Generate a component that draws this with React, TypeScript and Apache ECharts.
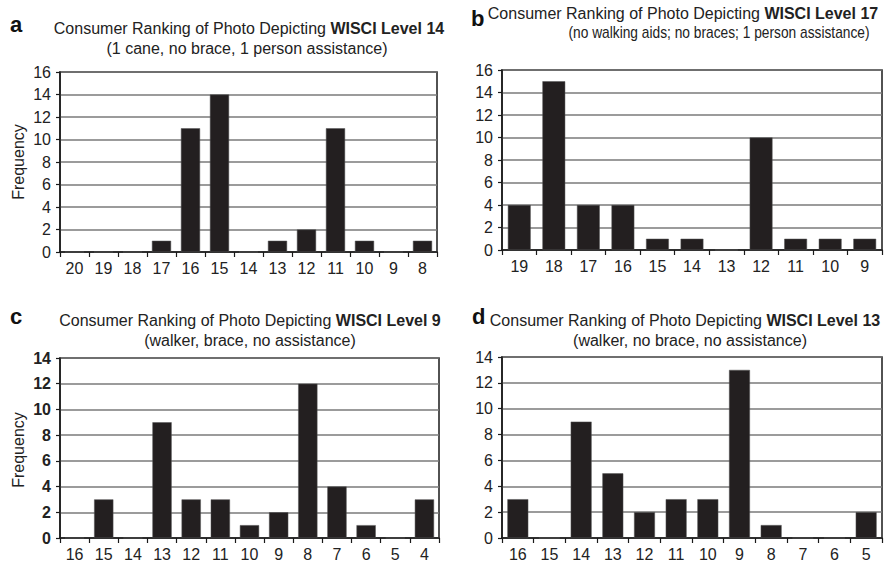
import React, { useEffect, useRef } from "react";
import * as echarts from "echarts";

const catsA = ["20", "19", "18", "17", "16", "15", "14", "13", "12", "11", "10", "9", "8"];
const valsA = [0, 0, 0, 1, 11, 14, 0, 1, 2, 11, 1, 0, 1];
const catsB = ["19", "18", "17", "16", "15", "14", "13", "12", "11", "10", "9"];
const valsB = [4, 15, 4, 4, 1, 1, 0, 10, 1, 1, 1];
const catsC = ["16", "15", "14", "13", "12", "11", "10", "9", "8", "7", "6", "5", "4"];
const valsC = [0, 3, 0, 9, 3, 3, 1, 2, 12, 4, 1, 0, 3];
const catsD = ["16", "15", "14", "13", "12", "11", "10", "9", "8", "7", "6", "5"];
const valsD = [3, 0, 9, 5, 2, 3, 3, 13, 1, 0, 0, 2];

const maxA = 16, maxB = 16, maxC = 14, maxD = 14;

const titleLevels = ["WISCI Level 14", "WISCI Level 17", "WISCI Level 9", "WISCI Level 13"];
const subtitles = [
  "(1 cane, no brace, 1 person assistance)",
  "(no walking aids; no braces; 1 person assistance)",
  "(walker, brace, no assistance)",
  "(walker, no brace, no assistance)",
];
const panelLetters = ["a", "b", "c", "d"];

const FONT = "Liberation Sans, Arial, sans-serif";
const BAR = "#231f20";

export default function App() {
  const ref = useRef<HTMLDivElement>(null);
  useEffect(() => {
    if (!ref.current) return;
    const chart = echarts.init(ref.current, null, { renderer: "svg" });

    const grids = [
      { left: 60, top: 72, width: 377, height: 180 },
      { left: 502, top: 70, width: 380, height: 180 },
      { left: 60, top: 358, width: 379, height: 182 },
      { left: 502, top: 357, width: 380, height: 182 },
    ];
    const cats = [catsA, catsB, catsC, catsD];
    const vals = [valsA, valsB, valsC, valsD];
    const maxes = [maxA, maxB, maxC, maxD];

    const titlePos = [
      { x1: 249, y1: 28, x2: 247, y2: 48, sx: 1 },
      { x1: 683, y1: 13, x2: 719, y2: 32, sx: 0.86 },
      { x1: 250, y1: 320, x2: 250, y2: 340, sx: 1 },
      { x1: 685, y1: 320, x2: 690, y2: 340, sx: 1 },
    ];
    const letterPos = [
      { x: 10, y: 24 },
      { x: 471, y: 18 },
      { x: 10, y: 316 },
      { x: 472, y: 316 },
    ];

    const graphic: any[] = [];
    for (let i = 0; i < 4; i++) {
      graphic.push({
        type: "text",
        x: letterPos[i].x,
        y: letterPos[i].y,
        style: {
          text: panelLetters[i],
          font: `bold 22px ${FONT}`,
          fill: "#111",
          textVerticalAlign: "middle",
        },
      });
      graphic.push({
        type: "text",
        x: titlePos[i].x1,
        y: titlePos[i].y1,
        style: {
          text: `{n|Consumer Ranking of Photo Depicting }{b|${titleLevels[i]}}`,
          rich: {
            n: { fontFamily: FONT, fontSize: 16, fill: "#222" },
            b: { fontFamily: FONT, fontSize: 16, fontWeight: "bold", fill: "#222" },
          },
          textAlign: "center",
          textVerticalAlign: "middle",
        },
      });
      graphic.push({
        type: "text",
        x: titlePos[i].x2,
        y: titlePos[i].y2,
        scaleX: titlePos[i].sx,
        style: {
          text: subtitles[i],
          font: `16px ${FONT}`,
          fill: "#222",
          textAlign: "center",
          textVerticalAlign: "middle",
        },
      });
    }
    graphic.push({
      type: "text",
      x: 18,
      y: 162,
      rotation: Math.PI / 2,
      style: { text: "Frequency", font: `16px ${FONT}`, fill: "#222", textAlign: "center", textVerticalAlign: "middle" },
    });
    graphic.push({
      type: "text",
      x: 18,
      y: 450,
      rotation: Math.PI / 2,
      style: { text: "Frequency", font: `16px ${FONT}`, fill: "#222", textAlign: "center", textVerticalAlign: "middle" },
    });

    const option: any = {
      animation: false,
      backgroundColor: "#fff",
      grid: grids.map((g) => ({ ...g, show: true, borderColor: "#1a1a1a", borderWidth: 1.5, backgroundColor: "transparent" })),
      xAxis: cats.map((c, i) => ({
        type: "category",
        gridIndex: i,
        data: c,
        axisLine: { show: true, lineStyle: { color: "#1a1a1a", width: 1.5 } },
        axisTick: { show: true, length: 5, alignWithLabel: false, lineStyle: { color: "#1a1a1a", width: 1.2 } },
        axisLabel: { color: "#222", fontFamily: FONT, fontSize: 16, margin: 8, interval: 0 },
        splitLine: { show: false },
      })),
      yAxis: maxes.map((m, i) => ({
        type: "value",
        gridIndex: i,
        min: 0,
        max: m,
        interval: 2,
        axisLine: { show: true, lineStyle: { color: "#1a1a1a", width: 1.5 } },
        axisTick: { show: true, length: 4, lineStyle: { color: "#1a1a1a", width: 1.2 } },
        axisLabel: {
          color: "#222",
          fontFamily: FONT,
          fontSize: 16,
          margin: 9,
          fontWeight: i === 2 ? "bold" : "normal",
        },
        splitLine: { show: true, lineStyle: { color: "#7a7a7a", width: 1.5 } },
      })),
      series: vals.map((v, i) => ({
        type: "bar",
        xAxisIndex: i,
        yAxisIndex: i,
        data: v,
        barCategoryGap: "34%",
        itemStyle: { color: BAR, borderColor: "#555", borderWidth: 0.5 },
      })),
      graphic,
    };
    chart.setOption(option);
    return () => chart.dispose();
  }, []);
  return <div ref={ref} style={{ position: "fixed", left: 0, top: 0, width: 887, height: 562 }} />;
}
